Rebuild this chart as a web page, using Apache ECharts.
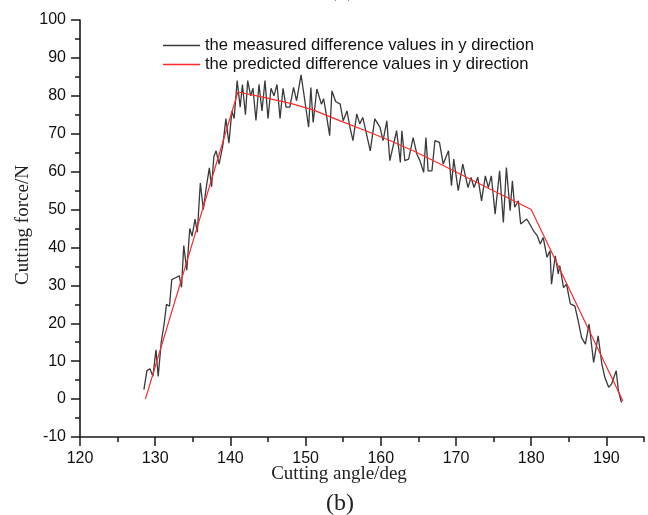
<!DOCTYPE html>
<html>
<head>
<meta charset="utf-8">
<script src="https://cdn.jsdelivr.net/npm/echarts@6/dist/echarts.min.js"></script>
<style>html,body{margin:0;padding:0;background:#fff}#c{width:648px;height:515px}</style>
</head>
<body>
<div id="c"></div>
<script>
// ---- data ----
var measuredAngle = [128.5,128.9,129.3,129.7,130.1,130.4,130.8,131.2,131.5,131.9,132.2,132.7,133.2,133.5,133.8,134.2,134.6,134.9,135.3,135.6,136.0,136.4,136.8,137.2,137.5,137.8,138.1,138.5,139.0,139.4,139.8,140.2,140.5,140.9,
141.3,141.6,142.0,142.3,142.7,143.0,143.4,143.8,144.2,144.6,145.0,145.4,145.8,146.2,146.6,147.0,147.4,147.9,148.4,148.8,149.4,149.9,150.4,150.7,151.0,151.5,152.1,152.4,152.8,153.2,153.5,154.0,154.6,155.0,155.5,155.9,156.3,156.8,157.2,157.6,158.0,158.6,159.2,159.9,160.3,160.8,161.2,161.9,162.1,162.6,162.8,163.2,163.7,164.3,164.8,165.2,165.7,166.0,166.3,166.8,167.2,167.8,168.3,169.0,169.4,169.7,170.3,170.9,171.6,172.0,172.4,172.9,173.4,173.9,174.3,174.7,175.2,175.8,176.3,176.7,177.2,177.5,177.8,178.3,178.6,179.4,179.8,
180.3,180.8,181.2,181.6,182.1,182.5,182.7,183.2,183.6,183.8,184.3,184.7,185.2,185.8,186.3,186.7,187.2,187.7,188.3,188.9,189.4,189.8,190.3,190.7,191.3,191.6,192.0];
var measuredForce = [2.5,7.5,8,6,13,6,15,20,25,24.5,31.5,32,32.5,29.5,40.5,34,45,43,47.5,44,57,50,56,61,56,64,65.5,62,67,74,67.5,76,74,84,
77,83,75,84,80,82,73.5,83,76,84,74,82,80,83,74,82,77,77,82.2,78.7,85.5,78.7,71.7,82.2,73,81.8,77.8,79.2,74.5,69.5,81.3,78.5,77.8,73.4,76,71.7,68.2,75.2,72.6,74.3,70.8,65.5,73.9,71.7,68.2,73.4,62.9,69,70.8,62.4,70.8,62.9,63.3,69,64.6,62.9,59.8,69,60.2,60.2,68.2,67.7,62,65.5,56.3,63.3,55,62,55.8,58.5,55.8,58.5,52.3,58.9,55.8,58.9,48.8,60.2,46.6,61.1,49.7,57.6,50.6,52.3,46.2,47.5,46.2,
44.4,43.1,40.9,42.6,37.4,39.1,30.3,37.8,33,35.2,29.4,30.3,25.1,24.6,20.2,16.2,14.5,19.8,9.7,16.7,9.2,5.7,3.1,4,7.5,2.2,-0.9];

var predictedAngle = [128.7,141,144,148,151,154.6,158,161.2,164.5,167.9,171,174.5,177.5,180,192.2];
var predictedForce = [0,81,79.8,78,76.3,73.4,70.8,68.2,65.3,62,58.9,55.4,52.5,50,-0.5];

var seriesNames = ['the measured difference values in y direction','the predicted difference values in y direction'];
var xMajorTicks = [120,130,140,150,160,170,180,190];
var xMinorTicks = [125,135,145,155,165,175,185,195];
var xLabel = 'Cutting angle/deg';
var yLabel = 'Cutting force/N';
var panelLabel = '(b)';

function pairs(xs, ys){ var out=[]; for(var i=0;i<xs.length;i++) out.push([xs[i], ys[i]]); return out; }

var chart = echarts.init(document.getElementById('c'), null, {renderer:'canvas'});
var axisColor = '#1a1a1a';
var sans = 'Liberation Sans, Arial, sans-serif';
var serif = 'Liberation Serif, Times New Roman, serif';
chart.setOption({
  animation:false,
  backgroundColor:'#fff',
  grid:{left:80, right:4, top:20, bottom:78, containLabel:false},
  legend:{
    orient:'vertical', left:163, top:37, padding:0, itemWidth:37, itemHeight:1.5, itemGap:2,
    icon:'rect',
    data:seriesNames,
    textStyle:{fontSize:16.6, color:'#111', fontFamily:sans, lineHeight:16}
  },
  xAxis:[{
    type:'value', min:120, max:195, interval:10, position:'bottom',
    axisLine:{show:true, onZero:false, lineStyle:{color:axisColor, width:1.6}},
    axisTick:{show:true, length:9, inside:false, customValues:xMajorTicks, lineStyle:{color:axisColor, width:1.5}},
    axisLabel:{customValues:xMajorTicks, margin:14, fontSize:16, color:'#111', fontFamily:sans},
    splitLine:{show:false}
  },{
    type:'value', min:120, max:195, interval:5, position:'bottom', gridIndex:0,
    axisLine:{show:false, onZero:false},
    axisTick:{show:true, length:5, inside:false, customValues:xMinorTicks, lineStyle:{color:axisColor, width:1.5}},
    axisLabel:{show:false},
    splitLine:{show:false}
  }],
  yAxis:{
    type:'value', min:-10, max:100, interval:10,
    axisLine:{show:true, onZero:false, lineStyle:{color:axisColor, width:1.6}},
    axisTick:{show:true, length:9, lineStyle:{color:axisColor, width:1.5}},
    minorTick:{show:true, splitNumber:2, length:5, lineStyle:{color:axisColor, width:1.5}},
    axisLabel:{margin:14, fontSize:16, color:'#111', fontFamily:sans},
    splitLine:{show:false}
  },
  series:[{
    name:seriesNames[0], type:'line', xAxisIndex:0, showSymbol:false, symbol:'none',
    data:pairs(measuredAngle, measuredForce),
    lineStyle:{color:'#3a3a3a', width:1.3}, itemStyle:{color:'#3a3a3a'}, z:2
  },{
    name:seriesNames[1], type:'line', xAxisIndex:0, showSymbol:false, symbol:'none',
    data:pairs(predictedAngle, predictedForce),
    lineStyle:{color:'#ff2a2a', width:1.2}, itemStyle:{color:'#ff2a2a'}, z:3
  }],
  graphic:[
    {type:'text', x:342, y:-22, style:{text:'(a)', fontSize:24, fontFamily:serif, fill:'#555', align:'center'}},
    {type:'text', x:339, y:474, style:{text:xLabel, fontSize:19, fontFamily:serif, fill:'#222', align:'center', verticalAlign:'middle'}},
    {type:'text', x:340, y:504, style:{text:panelLabel, fontSize:24, fontFamily:serif, fill:'#222', align:'center', verticalAlign:'middle'}},
    {type:'text', x:23, y:225, rotation:Math.PI/2, style:{text:yLabel, fontSize:19, fontFamily:serif, fill:'#222', align:'center', verticalAlign:'middle'}}
  ]
});
</script>
</body>
</html>
